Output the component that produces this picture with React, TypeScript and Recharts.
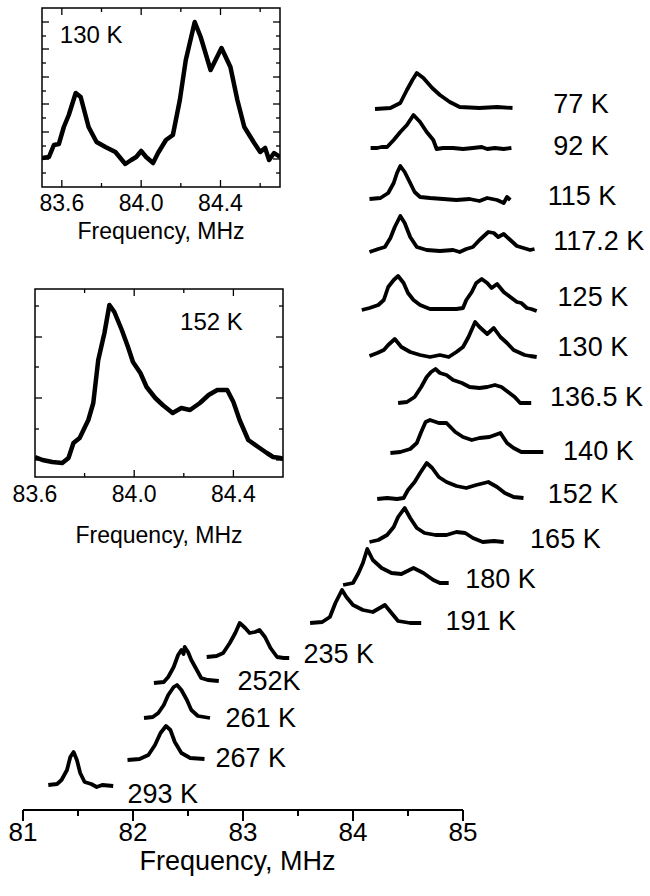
import { LineChart, Line, XAxis, YAxis, ReferenceDot, ReferenceLine, ReferenceArea } from 'recharts';

type Pt = [number, number];

const FONT = '"Liberation Sans", Arial, Helvetica, sans-serif';

// ---- main panel: spectra stacked by temperature, [frequency MHz, offset intensity]
const s77: Pt[] = [[84.2, 701], [84.34, 702], [84.43, 707], [84.49, 720], [84.54, 730], [84.58, 737], [84.64, 732], [84.72, 722], [84.79, 715], [84.88, 708], [84.97, 703], [85.15, 702], [85.31, 703], [85.45, 702]];
const s92: Pt[] = [[84.16, 662], [84.22, 662], [84.26, 663], [84.31, 663], [84.37, 670], [84.43, 678], [84.49, 685], [84.55, 695], [84.61, 688], [84.67, 678], [84.73, 670], [84.76, 661], [84.82, 662], [84.91, 662], [85.0, 661], [85.09, 662], [85.17, 663], [85.22, 661], [85.29, 662], [85.37, 661], [85.44, 662]];
const s115: Pt[] = [[84.15, 611], [84.25, 612], [84.32, 617], [84.37, 627], [84.4, 637], [84.43, 644], [84.47, 638], [84.52, 627], [84.56, 618], [84.61, 613], [84.7, 612], [84.82, 611], [84.94, 610], [85.06, 611], [85.15, 609], [85.22, 612], [85.31, 610], [85.37, 607], [85.4, 613], [85.43, 610]];
const s117: Pt[] = [[84.15, 558], [84.23, 561], [84.29, 563], [84.34, 572], [84.38, 583], [84.43, 594], [84.47, 587], [84.52, 573], [84.58, 563], [84.67, 560], [84.79, 559], [84.91, 560], [84.97, 558], [85.03, 561], [85.09, 563], [85.15, 570], [85.23, 578], [85.28, 577], [85.32, 573], [85.37, 576], [85.43, 570], [85.49, 564], [85.55, 562], [85.61, 560], [85.65, 561]];
const s125: Pt[] = [[84.08, 500], [84.15, 502], [84.23, 505], [84.28, 510], [84.32, 523], [84.37, 530], [84.41, 534], [84.46, 527], [84.5, 517], [84.55, 510], [84.61, 505], [84.7, 501], [84.82, 501], [84.94, 501], [85.0, 502], [85.03, 510], [85.08, 518], [85.12, 527], [85.17, 531], [85.22, 527], [85.26, 522], [85.31, 526], [85.37, 518], [85.43, 513], [85.49, 508], [85.53, 507], [85.58, 502], [85.62, 501], [85.67, 499]];
const s130: Pt[] = [[84.15, 454], [84.22, 457], [84.28, 460], [84.32, 465], [84.38, 471], [84.44, 463], [84.52, 458], [84.61, 455], [84.7, 453], [84.79, 455], [84.87, 453], [84.94, 458], [85.0, 463], [85.05, 473], [85.11, 488], [85.15, 483], [85.22, 476], [85.28, 482], [85.34, 473], [85.4, 467], [85.46, 460], [85.52, 457], [85.56, 455], [85.61, 454], [85.67, 453]];
const s136: Pt[] = [[84.41, 407], [84.49, 408], [84.56, 413], [84.62, 423], [84.67, 433], [84.71, 438], [84.75, 441], [84.79, 437], [84.85, 435], [84.91, 430], [84.99, 427], [85.06, 423], [85.15, 422], [85.22, 423], [85.29, 425], [85.35, 423], [85.41, 418], [85.47, 413], [85.52, 407], [85.62, 407]];
const s140: Pt[] = [[84.34, 357], [84.43, 358], [84.52, 361], [84.58, 367], [84.62, 378], [84.66, 388], [84.7, 390], [84.78, 387], [84.85, 387], [84.93, 378], [85.0, 373], [85.08, 370], [85.15, 372], [85.24, 373], [85.34, 377], [85.4, 367], [85.46, 362], [85.53, 358], [85.62, 358], [85.73, 358]];
const s152: Pt[] = [[84.22, 311], [84.31, 312], [84.4, 311], [84.46, 312], [84.5, 320], [84.56, 328], [84.61, 337], [84.67, 347], [84.72, 342], [84.78, 333], [84.85, 328], [84.94, 324], [85.03, 322], [85.12, 325], [85.23, 328], [85.31, 323], [85.38, 317], [85.46, 313], [85.55, 312]];
const s165: Pt[] = [[84.15, 268], [84.23, 270], [84.31, 275], [84.37, 283], [84.41, 293], [84.47, 302], [84.52, 292], [84.58, 282], [84.65, 277], [84.75, 275], [84.85, 275], [84.94, 278], [85.02, 277], [85.09, 272], [85.18, 268], [85.28, 269], [85.37, 268]];
const s180: Pt[] = [[83.91, 225], [84.0, 227], [84.05, 237], [84.09, 247], [84.13, 261], [84.18, 250], [84.26, 242], [84.35, 237], [84.44, 236], [84.55, 242], [84.64, 237], [84.73, 230], [84.79, 227], [84.87, 227]];
const s191: Pt[] = [[83.61, 187], [83.72, 188], [83.79, 193], [83.84, 207], [83.9, 220], [83.94, 213], [84.0, 205], [84.09, 200], [84.18, 198], [84.29, 205], [84.35, 197], [84.41, 189], [84.52, 187], [84.62, 187]];
const s235: Pt[] = [[82.67, 153], [82.76, 154], [82.82, 157], [82.88, 167], [82.93, 177], [82.97, 187], [83.02, 182], [83.06, 177], [83.11, 178], [83.15, 180], [83.2, 173], [83.25, 162], [83.31, 153], [83.37, 152], [83.42, 152]];
const s252: Pt[] = [[82.19, 127], [82.28, 128], [82.32, 133], [82.37, 143], [82.41, 155], [82.44, 160], [82.46, 156], [82.47, 163], [82.5, 158], [82.53, 150], [82.58, 140], [82.62, 132], [82.68, 130], [82.78, 129]];
const s261: Pt[] = [[82.1, 92], [82.18, 93], [82.23, 97], [82.28, 105], [82.32, 115], [82.37, 123], [82.4, 125], [82.44, 120], [82.49, 110], [82.53, 100], [82.59, 94], [82.7, 92]];
const s267: Pt[] = [[81.95, 50], [82.06, 51], [82.14, 55], [82.2, 65], [82.25, 77], [82.3, 84], [82.34, 80], [82.38, 68], [82.44, 57], [82.52, 52], [82.65, 51]];
const s293: Pt[] = [[81.23, 25], [81.31, 26], [81.35, 30], [81.4, 40], [81.43, 53], [81.46, 58], [81.49, 50], [81.52, 37], [81.56, 28], [81.62, 26], [81.67, 23], [81.72, 25], [81.82, 24]];

const temps = ['77 K', '92 K', '115 K', '117.2 K', '125 K', '130 K', '136.5 K', '140 K', '152 K', '165 K', '180 K', '191 K', '235 K', '252K', '261 K', '267 K', '293 K'];
const spectra = [s77, s92, s115, s117, s125, s130, s136, s140, s152, s165, s180, s191, s235, s252, s261, s267, s293];
// where each temperature label starts (left end, baseline)
const labelPos: Pt[] = [[85.82, 697], [85.82, 655], [85.77, 605], [85.82, 560], [85.86, 504], [85.86, 454], [85.79, 404], [85.91, 350], [85.77, 307], [85.61, 262], [85.02, 222], [84.84, 180], [83.55, 147], [82.95, 120], [82.84, 83], [82.75, 43], [81.95, 7]];

const mainTicks = [81, 81.5, 82, 82.5, 83, 83.5, 84, 84.5, 85];

// ---- insets
const in130: Pt[] = [[83.5, 29], [83.535, 30], [83.56, 42], [83.585, 43], [83.61, 60], [83.635, 72], [83.67, 94], [83.695, 90], [83.735, 60], [83.775, 45], [83.82, 40], [83.87, 35], [83.92, 23], [83.95, 27], [83.975, 30], [84.0, 36], [84.025, 30], [84.06, 24], [84.085, 34], [84.125, 47], [84.16, 52], [84.195, 87], [84.225, 127], [84.27, 165], [84.3, 150], [84.35, 117], [84.405, 139], [84.45, 120], [84.485, 87], [84.52, 60], [84.57, 44], [84.6, 35], [84.625, 39], [84.645, 27], [84.67, 34], [84.7, 30]];
const in152: Pt[] = [[83.6, 20], [83.63, 17], [83.67, 15], [83.71, 14], [83.735, 19], [83.755, 34], [83.78, 39], [83.815, 57], [83.835, 74], [83.855, 117], [83.88, 144], [83.9, 172], [83.92, 165], [83.95, 147], [83.975, 130], [83.995, 115], [84.025, 104], [84.05, 90], [84.085, 79], [84.115, 72], [84.155, 64], [84.19, 69], [84.225, 67], [84.265, 74], [84.3, 82], [84.335, 87], [84.375, 87], [84.4, 75], [84.425, 57], [84.46, 37], [84.5, 30], [84.535, 24], [84.56, 20], [84.59, 19], [84.6, 18]];

const insetXTicks = [83.6, 83.8, 84.0, 84.2, 84.4, 84.6];
const insetXLabels = [83.6, 84.0, 84.4];
const in130YTicks = [14, 28, 41, 55, 69, 83, 96, 110, 124, 138, 151, 165];
const in152YTicks = [17, 48, 79, 110, 140, 171];

const toRows = (pts: Pt[]) => pts.map(([f, v]) => ({ f, v }));
const isIn = (list: number[], v: number) => list.some((m) => Math.abs(m - v) < 1e-6);

const textShape = (text: string, size: number, anchor: 'start' | 'middle' = 'start') => (p: any) => (
  <text x={p.cx} y={p.cy} fontSize={size} fontFamily={FONT} textAnchor={anchor} fill="#000">{text}</text>
);

function MainTick({ x, y, payload }: any) {
  const major = Number.isInteger(payload.value);
  return (
    <g>
      <line x1={x} x2={x} y1={y} y2={y + (major ? 11 : 6)} stroke="#000" strokeWidth={2} />
      {major && (
        <text x={x} y={y + 31} textAnchor="middle" fontSize={26} fontFamily={FONT} fill="#000">{payload.value}</text>
      )}
    </g>
  );
}

const insetLabelTick = (dy: number) => ({ x, y, payload }: any) =>
  isIn(insetXLabels, payload.value) ? (
    <text x={x} y={y + dy} textAnchor="middle" fontSize={23} fontFamily={FONT} fill="#000">{payload.value.toFixed(1)}</text>
  ) : <g />;

interface InsetProps {
  pts: Pt[];
  left: number;
  top: number;
  w: number;
  h: number;
  xDomain: [number, number];
  yMax: number;
  yTicks: number[];
  yMajors: number[];
  tag: string;
  tagAt: Pt;
  tickBase: number;
  titleBase: number;
}

const SIDE = 32;

function Inset({ pts, left, top, w, h, xDomain, yMax, yTicks, yMajors, tag, tagAt, tickBase, titleBase }: InsetProps) {
  const below = titleBase + 12;
  const [x0, x1] = xDomain;
  const titleX = (x0 + x1) / 2;
  const py = yMax / h; // value per pixel, vertical
  const px = (x1 - x0) / w; // MHz per pixel, horizontal
  const xt = insetXTicks.filter((t) => t > x0 + 1e-6 && t < x1 - 1e-6);
  const tickStyle = { stroke: '#000', strokeWidth: 1.3 };
  return (
    <div style={{ position: 'absolute', left: left - SIDE, top: top - 1 }}>
      <LineChart width={w + 2 * SIDE} height={h + 2 + below} margin={{ top: 1, right: SIDE, bottom: 0, left: SIDE }}>
        <XAxis dataKey="f" type="number" domain={xDomain} allowDataOverflow ticks={insetXTicks.filter((t) => t >= x0 && t <= x1)}
          height={below + 1} tickSize={0} tickMargin={0} tickLine={false} interval={0} axisLine={false} tick={insetLabelTick(tickBase)} />
        <YAxis type="number" domain={[0, yMax]} allowDataOverflow hide />
        <ReferenceArea x1={x0} x2={x1} y1={0} y2={yMax} ifOverflow="visible" fill="none" stroke="#000" strokeWidth={1.5} />
        {xt.map((t) => {
          const len = (isIn(insetXLabels, t) ? 7 : 4) * py;
          return [
            <ReferenceLine key={'b' + t} segment={[{ x: t, y: 0 }, { x: t, y: len }]} ifOverflow="visible" {...tickStyle} />,
            <ReferenceLine key={'t' + t} segment={[{ x: t, y: yMax }, { x: t, y: yMax - len }]} ifOverflow="visible" {...tickStyle} />,
          ];
        })}
        {yTicks.map((t) => {
          const len = (isIn(yMajors, t) ? 7 : 4) * px;
          return [
            <ReferenceLine key={'l' + t} segment={[{ x: x0, y: t }, { x: x0 + len, y: t }]} ifOverflow="visible" {...tickStyle} />,
            <ReferenceLine key={'r' + t} segment={[{ x: x1, y: t }, { x: x1 - len, y: t }]} ifOverflow="visible" {...tickStyle} />,
          ];
        })}
        <Line data={toRows(pts)} dataKey="v" type="linear" stroke="#000" strokeWidth={4.5} strokeLinejoin="round" dot={false} isAnimationActive={false} />
        <ReferenceDot x={tagAt[0]} y={tagAt[1]} r={0} ifOverflow="visible" shape={textShape(tag, 24)} />
        <ReferenceDot x={titleX} y={-titleBase * py} r={0} ifOverflow="visible" shape={textShape('Frequency, MHz', 23, 'middle')} />
      </LineChart>
    </div>
  );
}

export default function App() {
  return (
    <div style={{ position: 'absolute', left: 0, top: 0, width: 650, height: 896, background: '#fff', fontFamily: FONT }}>
      <LineChart width={650} height={896} margin={{ top: 0, right: 11, bottom: 26, left: 23 }}>
        <XAxis dataKey="f" type="number" domain={[81, 86.6]} allowDataOverflow ticks={mainTicks} interval={0}
          height={60} tickSize={0} tickMargin={0} tickLine={false} axisLine={false} tick={<MainTick />} />
        <YAxis type="number" domain={[0, 810]} allowDataOverflow hide />
        <ReferenceLine segment={[{ x: 81, y: 0 }, { x: 85, y: 0 }]} stroke="#000" strokeWidth={2} />
        {spectra.map((pts, i) => (
          <Line key={temps[i]} data={toRows(pts)} dataKey="v" type="linear" stroke="#000" strokeWidth={3.8}
            strokeLinejoin="round" dot={false} isAnimationActive={false} />
        ))}
        {temps.map((t, i) => (
          <ReferenceDot key={'lab' + t} x={labelPos[i][0]} y={labelPos[i][1]} r={0} ifOverflow="visible" shape={textShape(t, 27)} />
        ))}
        <ReferenceDot x={82.95} y={-60} r={0} ifOverflow="visible" shape={textShape('Frequency, MHz', 27, 'middle')} />
      </LineChart>
      <Inset pts={in130} left={42} top={8} w={238} h={179} xDomain={[83.5, 84.7]} yMax={179}
        yTicks={in130YTicks} yMajors={[28, 55, 83, 110, 138, 165]} tag="130 K" tagAt={[83.59, 144]} tickBase={24} titleBase={52} />
      <Inset pts={in152} left={35} top={289} w={248} h={188} xDomain={[83.6, 84.6]} yMax={188}
        yTicks={in152YTicks} yMajors={[17, 79, 140]} tag="152 K" tagAt={[84.185, 147]} tickBase={25} titleBase={66} />
    </div>
  );
}
